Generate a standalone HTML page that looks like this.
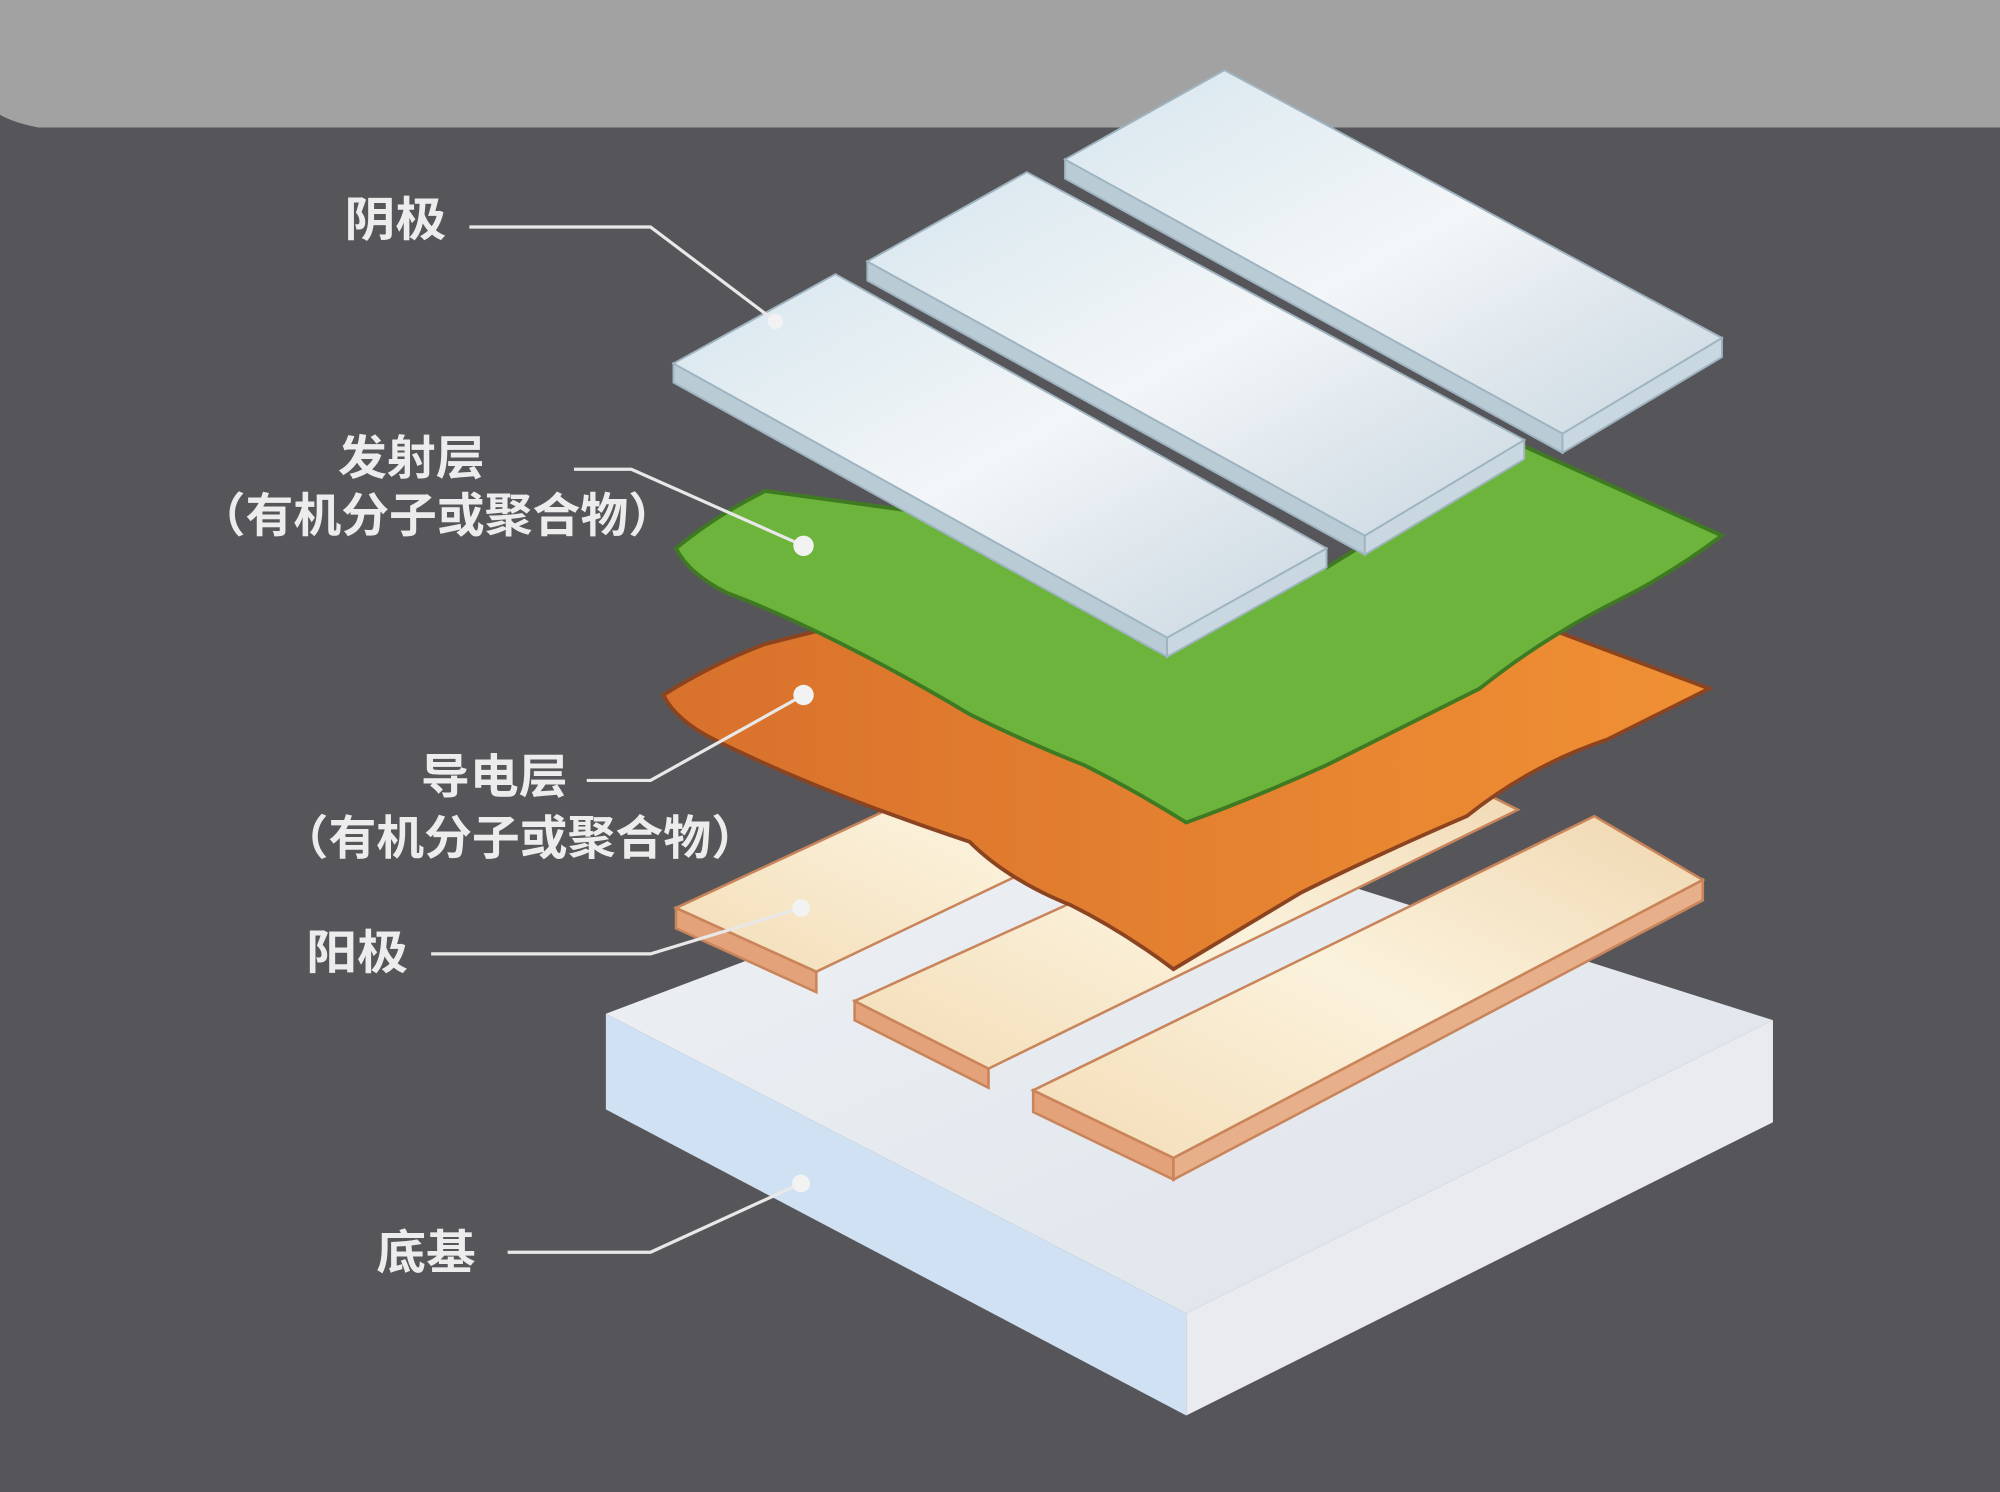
<!DOCTYPE html>
<html><head><meta charset="utf-8"><style>
html,body{margin:0;padding:0;background:#56565a;}
svg{display:block}
text{font-family:"Liberation Sans","Noto Sans CJK SC",sans-serif;font-weight:bold;fill:#ececec;}
</style></head><body>
<svg width="2000" height="1492" viewBox="0 0 1568 1170" preserveAspectRatio="none" xmlns="http://www.w3.org/2000/svg">
<defs>
<linearGradient id="sil" x1="0" y1="0" x2="1" y2="1">
<stop offset="0" stop-color="#d6e6ee"/><stop offset="0.5" stop-color="#f3f6f8"/><stop offset="1" stop-color="#c8d6e0"/></linearGradient>
<linearGradient id="tan" x1="0" y1="1" x2="1" y2="0">
<stop offset="0" stop-color="#f3dcb6"/><stop offset="0.5" stop-color="#fbf2dc"/><stop offset="1" stop-color="#f0d7b0"/></linearGradient>
<linearGradient id="base" x1="0" y1="0" x2="1" y2="1">
<stop offset="0" stop-color="#eef1f5"/><stop offset="1" stop-color="#dde3ea"/></linearGradient>
<linearGradient id="org" x1="0" y1="0" x2="1" y2="0">
<stop offset="0" stop-color="#d8712c"/><stop offset="1" stop-color="#f09034"/></linearGradient>
</defs>
<rect width="1568" height="1170" fill="#56565a"/>
<path d="M0 0H1568V100H30Q10 96 0 90Z" fill="#a2a2a2"/>
<!-- base -->
<polygon points="475,795 475,870 930,1110 930,1030" fill="#cfe1f3"/>
<polygon points="930,1030 930,1110 1390,880 1390,800" fill="#e9ebef"/>
<polygon points="475,795 885,640 1390,800 930,1030" fill="url(#base)"/>
<!-- anodes -->
<g stroke="#c9845a" stroke-width="2">
<polygon points="530,712 640,762 640,778 530,728" fill="#e3a27a"/>
<polygon points="530,712 900,540 1000,590 640,762" fill="url(#tan)"/>
<polygon points="670,785 775,838 775,853 670,800" fill="#e3a27a"/>
<polygon points="670,785 1100,590 1190,635 775,838" fill="url(#tan)"/>
<polygon points="810,855 920,908 920,925 810,872" fill="#e3a27a"/>
<polygon points="920,908 1335,690 1335,706 920,925" fill="#e8b08a"/>
<polygon points="810,855 1250,640 1335,690 920,908" fill="url(#tan)"/>
</g>
<!-- orange -->
<path d="M520,545 Q560,520 600,505 L640,495 L1000,560 L1220,495 L1340,540 Q1300,560 1260,580 Q1200,600 1150,640 Q1080,670 1020,700 Q970,730 920,760 Q880,730 840,710 Q790,690 760,660 Q700,640 650,620 Q600,600 560,580 Q530,565 520,545Z" fill="url(#org)" stroke="#8c4420" stroke-width="3"/>
<!-- green -->
<path d="M530,430 Q560,405 600,385 L1040,445 L1195,350 L1350,420 Q1310,450 1270,470 Q1210,500 1160,540 Q1100,570 1040,600 Q985,625 930,645 Q890,620 850,600 Q800,580 760,560 Q710,530 660,505 Q610,480 570,465 Q540,450 530,430Z" fill="#6cb43c" stroke="#3f7a22" stroke-width="3"/>
<!-- cathodes -->
<g stroke="#9fb4c0" stroke-width="1.5">
<polygon points="835,125 835,140 1225,355 1225,340" fill="#b9ccd6"/>
<polygon points="1225,340 1225,355 1350,280 1350,265" fill="#c8d7e0"/>
<polygon points="835,125 960,55 1350,265 1225,340" fill="url(#sil)"/>
<polygon points="680,205 680,220 1070,435 1070,420" fill="#b9ccd6"/>
<polygon points="1070,420 1070,435 1195,360 1195,345" fill="#c8d7e0"/>
<polygon points="680,205 805,135 1195,345 1070,420" fill="url(#sil)"/>
<polygon points="528,285 528,300 915,515 915,500" fill="#b9ccd6"/>
<polygon points="915,500 915,515 1040,445 1040,430" fill="#c8d7e0"/>
<polygon points="528,285 655,215 1040,430 915,500" fill="url(#sil)"/>
</g>
<!-- leader lines -->
<g stroke="#e8e8e8" stroke-width="2.5" fill="none">
<polyline points="368,178 510,178 608,252"/>
<polyline points="450,368 495,368 630,428"/>
<polyline points="460,612 510,612 630,545"/>
<polyline points="338,748 510,748 628,712"/>
<polyline points="398,982 510,982 628,928"/>
</g>
<g fill="#f2f2f2">
<circle cx="608" cy="252" r="6"/><circle cx="630" cy="428" r="8"/><circle cx="630" cy="545" r="8"/><circle cx="628" cy="712" r="7"/><circle cx="628" cy="928" r="7"/>
</g>
<g font-size="37">
<text x="270" y="185" textLength="80" lengthAdjust="spacingAndGlyphs">阴极</text>
<text x="265" y="372" textLength="115" lengthAdjust="spacingAndGlyphs">发射层</text>
<text x="155" y="417" textLength="375" lengthAdjust="spacingAndGlyphs">（有机分子或聚合物）</text>
<text x="330" y="622" textLength="115" lengthAdjust="spacingAndGlyphs">导电层</text>
<text x="220" y="670" textLength="375" lengthAdjust="spacingAndGlyphs">（有机分子或聚合物）</text>
<text x="240" y="760" textLength="80" lengthAdjust="spacingAndGlyphs">阳极</text>
<text x="295" y="995" textLength="78" lengthAdjust="spacingAndGlyphs">底基</text>
</g>
</svg>
</body></html>
